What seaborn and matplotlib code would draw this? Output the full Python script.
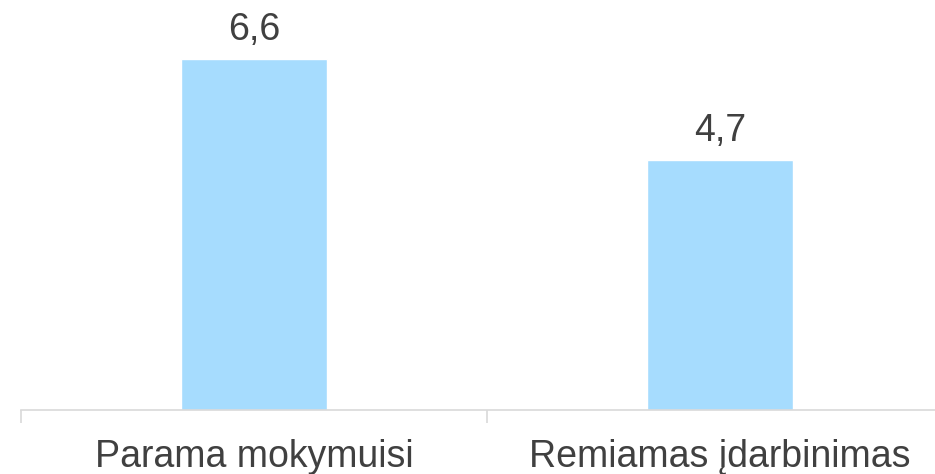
import matplotlib
matplotlib.use('Agg')
import matplotlib.pyplot as plt
import seaborn as sns
import pandas as pd

categories = ['Parama mokymuisi', 'Remiamas įdarbinimas']
values = [6.6, 4.7]
value_labels = ['6,6', '4,7']

sns.set_theme(style='white')
plt.rcParams['font.family'] = ['Liberation Sans', 'DejaVu Sans']

df = pd.DataFrame({'category': categories, 'value': values})

fig = plt.figure(figsize=(9.35, 4.74), dpi=100)
# axes extends past the right edge like the reference
ax = fig.add_axes([21 / 935, 1 - 410 / 474, 932 / 935, 372.4 / 474])
sns.barplot(data=df, x='category', y='value', color='#a6dcfe', width=0.313,
            saturation=1, ax=ax)
ax.set_ylim(0, 7)
ax.set_xlim(-0.5, 1.5)

for i, (v, lab) in enumerate(zip(values, value_labels)):
    ax.text(i, v + 0.21, lab, ha='center', va='bottom', fontsize=27, color='#404040')

for s in ['top', 'right', 'left']:
    ax.spines[s].set_visible(False)
ax.spines['bottom'].set_color('#d9d9d9')
ax.spines['bottom'].set_linewidth(1.2)
ax.set_yticks([])
ax.set_xlabel('')
ax.set_ylabel('')
ax.set_xticks([-0.5, 0.5, 1.5], minor=True)
ax.tick_params(axis='x', which='major', length=0, pad=21, labelsize=27, labelcolor='#404040')
ax.tick_params(axis='x', which='minor', length=9, width=1.2, color='#d9d9d9', bottom=True)

fig.savefig('out.png', dpi=100)
